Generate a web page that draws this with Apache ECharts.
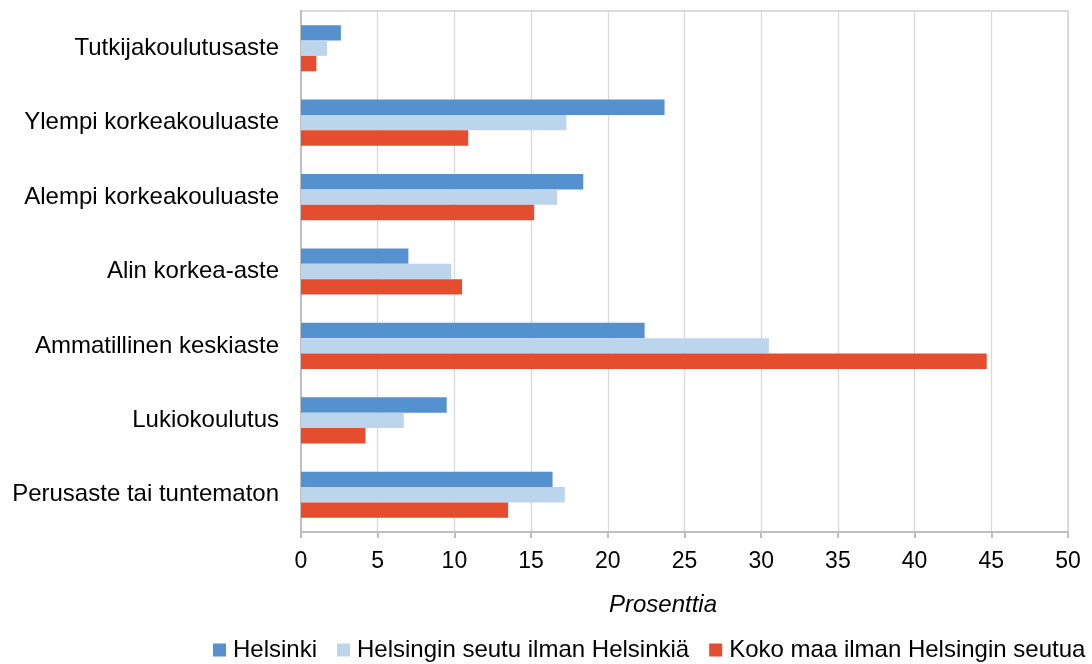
<!DOCTYPE html>
<html>
<head>
<meta charset="utf-8">
<script src="https://cdn.jsdelivr.net/npm/echarts@6/dist/echarts.min.js"></script>
<style>
html,body{margin:0;padding:0;background:#fff;}
#chart{width:1092px;height:664px;}
</style>
</head>
<body>
<div id="chart"></div>
<script>
const categories = [
  'Tutkijakoulutusaste',
  'Ylempi korkeakouluaste',
  'Alempi korkeakouluaste',
  'Alin korkea-aste',
  'Ammatillinen keskiaste',
  'Lukiokoulutus',
  'Perusaste tai tuntematon'
];
const seriesNames = ['Helsinki', 'Helsingin seutu ilman Helsinkiä', 'Koko maa ilman Helsingin seutua'];
const helsinki = [2.6, 23.7, 18.4, 7.0, 22.4, 9.5, 16.4];
const seutu = [1.7, 17.3, 16.7, 9.8, 30.5, 6.7, 17.2];
const kokoMaa = [1.0, 10.9, 15.2, 10.5, 44.7, 4.2, 13.5];
const xTicks = { min: 0, max: 50, interval: 5 };
const axisTitle = 'Prosenttia';

const colors = ['#5591CE', '#BDD5EC', '#E44D2E'];
const font = '"Liberation Sans", Arial, sans-serif';

const chart = echarts.init(document.getElementById('chart'), null, { renderer: 'canvas' });
chart.setOption({
  animation: false,
  backgroundColor: '#ffffff',
  color: colors,
  textStyle: { fontFamily: font, color: '#000' },
  grid: {
    left: 301, right: 24, top: 11, bottom: 132,
    show: true, borderColor: '#CFCFCF', borderWidth: 1.3
  },
  legend: {
    left: 213, top: 638, padding: 0,
    itemWidth: 13, itemHeight: 13, itemGap: 20,
    icon: 'rect',
    textStyle: { fontFamily: font, fontSize: 24, color: '#000', padding: [0, 0, 0, 2] },
    data: seriesNames
  },
  xAxis: {
    type: 'value',
    min: xTicks.min, max: xTicks.max, interval: xTicks.interval,
    name: axisTitle,
    nameLocation: 'middle',
    nameGap: 61,
    nameTextStyle: { fontFamily: font, fontSize: 24, fontStyle: 'italic', color: '#000', padding: [0, 43, 0, 0] },
    axisLine: { show: true, lineStyle: { color: '#BFBFBF', width: 2 } },
    axisTick: { show: true, length: 6, lineStyle: { color: '#BFBFBF', width: 2 } },
    axisLabel: { fontFamily: font, fontSize: 23, color: '#000', margin: 18 },
    splitLine: { show: true, lineStyle: { color: '#D9D9D9', width: 1.3 } }
  },
  yAxis: {
    type: 'category',
    data: categories,
    inverse: true,
    axisLine: { show: true, lineStyle: { color: '#BFBFBF', width: 2 } },
    axisTick: { show: false },
    axisLabel: { fontFamily: font, fontSize: 24, color: '#000', margin: 22 },
    splitLine: { show: false }
  },
  series: [
    { name: seriesNames[0], type: 'bar', data: helsinki, barGap: '0%', barCategoryGap: '38%' },
    { name: seriesNames[1], type: 'bar', data: seutu, barGap: '0%', barCategoryGap: '38%' },
    { name: seriesNames[2], type: 'bar', data: kokoMaa, barGap: '0%', barCategoryGap: '38%' }
  ]
});
</script>
</body>
</html>
